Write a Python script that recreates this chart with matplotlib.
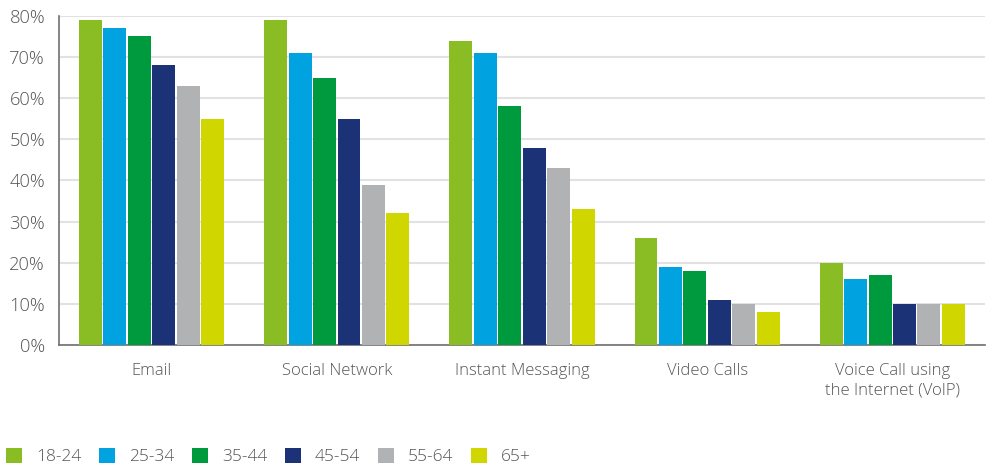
import matplotlib
matplotlib.use("Agg")
import matplotlib.pyplot as plt
import numpy as np
from matplotlib.patches import Patch

categories = ["Email", "Social Network", "Instant Messaging", "Video Calls", "Voice Call using\nthe Internet (VoIP)"]
age_groups = ["18-24", "25-34", "35-44", "45-54", "55-64", "65+"]
v_18_24 = [79, 79, 74, 26, 20]
v_25_34 = [77, 71, 71, 19, 16]
v_35_44 = [75, 65, 58, 18, 17]
v_45_54 = [68, 55, 48, 11, 10]
v_55_64 = [63, 39, 43, 10, 10]
v_65p = [55, 32, 33, 8, 10]
series = [v_18_24, v_25_34, v_35_44, v_45_54, v_55_64, v_65p]
colors = ["#8abd24", "#00a3e0", "#009a3e", "#1b3276", "#b1b2b4", "#cfd600"]
yticks = [0, 10, 20, 30, 40, 50, 60, 70, 80]

plt.rcParams['font.family'] = ['Open Sans', 'DejaVu Sans']
text_color = "#555555"

fig = plt.figure(figsize=(9.87, 4.68), dpi=100)
ax = fig.add_axes([0.0598, 0.263, 0.938, 0.703])

x = np.arange(len(categories))
pitch = 0.132
width = 0.124
n = len(series)
for i, (vals, c) in enumerate(zip(series, colors)):
    ax.bar(x + (i - (n - 1) / 2) * pitch, vals, width=width, color=c, zorder=3)

ax.set_xlim(-0.5, len(categories) - 0.5)
ax.set_ylim(0, 80)
ax.set_yticks(yticks)
ax.set_yticklabels([f"{t}%" for t in yticks], fontsize=13.2)
ax.set_xticks(x)
ax.set_xticklabels(categories, linespacing=1.3, fontsize=12)
ax.yaxis.grid(True, color="#e2e2e2", linewidth=1.5, zorder=0)
ax.set_axisbelow(True)
for s in ["top", "right"]:
    ax.spines[s].set_visible(False)
for s in ["left", "bottom"]:
    ax.spines[s].set_color("#707070")
    ax.spines[s].set_linewidth(1.2)
ax.tick_params(axis="both", length=0, labelcolor=text_color)
ax.tick_params(axis="y", pad=10)
ax.tick_params(axis="x", pad=13)
for lab in ax.get_xticklabels() + ax.get_yticklabels():
    lab.set_fontweight("light")

handles = [Patch(facecolor=c, edgecolor="none") for c in colors]
leg = fig.legend(handles, age_groups, loc="lower left", bbox_to_anchor=(0.003, 0.0),
                 ncol=6, frameon=False, handlelength=0.95, handleheight=0.95,
                 handletextpad=0.8, columnspacing=1.0, fontsize=12.5, borderaxespad=0.0,
                 borderpad=0.15)
for t in leg.get_texts():
    t.set_color(text_color)
    t.set_fontweight("light")

fig.savefig("out.png", dpi=100)
